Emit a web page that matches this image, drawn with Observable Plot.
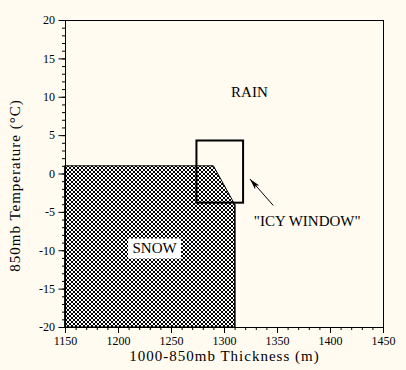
<!DOCTYPE html>
<html>
<head>
<meta charset="utf-8">
<script src="https://cdn.jsdelivr.net/npm/d3@7"></script>
<script src="https://cdn.jsdelivr.net/npm/@observablehq/plot@0.6"></script>
<style>
  html, body { margin: 0; padding: 0; background: #fffbf0; }
  svg { display: block; }
</style>
</head>
<body>
<div id="chart"></div>
<script>
// Data
const xDomain = [1150, 1450];
const yDomain = [-20, 20];
const xMajorTicks = [1150, 1200, 1250, 1300, 1350, 1400, 1450];
const yMajorTicks = [-20, -15, -10, -5, 0, 5, 10, 15, 20];
const xMinorTicks = d3.range(1150, 1451, 10);
const yMinorTicks = d3.range(-20, 21, 1);
// snow region upper boundary (thickness, temperature); filled down to -20
const snowX = [1150, 1290, 1310];
const snowY = [1, 1, -4];
// icy window box
const icyBox = [{x1: 1274, x2: 1318, y1: -3.8, y2: 4.3}];
// arrow from label to box
const arrowTail = {x: 1346, y: -4.1};
const arrowHead = {x: 1324, y: -0.65};
// labels
const labels = [
  {text: "RAIN", x: 1323.5, y: 10.6},
  {text: "\"ICY WINDOW\"", x: 1378, y: -6.1}
];
const snowLabel = [{text: "SNOW", x: 1234, y: -9.7}];

const snow = snowX.map((x, i) => ({x, y: snowY[i]}));

const arrowHeadSymbol = {
  draw(ctx) {
    ctx.moveTo(0, 0);
    ctx.lineTo(-2.8, 11);
    ctx.lineTo(0, 8.5);
    ctx.lineTo(2.8, 11);
    ctx.closePath();
  }
};
const boxSymbol = {
  draw(ctx) { ctx.rect(-26.5, -10, 53, 20); }
};

const font = "Liberation Serif, Times New Roman, serif";

const plot = Plot.plot({
  width: 406,
  height: 370,
  marginLeft: 65,
  marginRight: 23,
  marginTop: 20,
  marginBottom: 43,
  style: {background: "#fffbf0", fontFamily: font, fontSize: "12px", color: "black", overflow: "visible"},
  x: {domain: xDomain},
  y: {domain: yDomain},
  marks: [
    Plot.areaY(snow, {x: "x", y: "y", y1: -20, fill: "url(#hatch)", stroke: "black", strokeWidth: 1}),
    Plot.ruleX([snowX[snowX.length - 1]], {y1: snowY[snowY.length - 1], y2: -20, stroke: "black"}),
    Plot.rect(icyBox, {x1: "x1", x2: "x2", y1: "y1", y2: "y2", fill: "none", stroke: "black", strokeWidth: 2}),
    Plot.link([{}], {x1: arrowTail.x, y1: arrowTail.y, x2: arrowHead.x, y2: arrowHead.y, stroke: "black", strokeWidth: 1}),
    Plot.dot([arrowHead], {x: "x", y: "y", symbol: arrowHeadSymbol, fill: "black", stroke: "none", rotate: -41}),
    Plot.dot(snowLabel, {x: "x", y: "y", symbol: boxSymbol, fill: "white", stroke: "none"}),
    Plot.text(snowLabel, {x: "x", y: "y", text: "text", fontSize: 15, fontFamily: font, fill: "black"}),
    Plot.text(labels, {x: "x", y: "y", text: "text", fontSize: 15, fontFamily: font, fill: "black"}),
    Plot.frame({stroke: "black", strokeWidth: 1}),
    Plot.axisX(xMinorTicks, {tickSize: 3, text: null, stroke: "black"}),
    Plot.axisX(xMajorTicks, {tickSize: 6, tickPadding: 3, tickFormat: d => String(d), label: null, fill: "black", stroke: "black"}),
    Plot.axisY(yMinorTicks, {tickSize: 3, text: null, stroke: "black"}),
    Plot.axisY(yMajorTicks, {tickSize: 6.5, tickPadding: 4, tickFormat: d => String(d), label: null, fill: "black", stroke: "black"}),
    Plot.text(["1000-850mb Thickness (m)"], {frameAnchor: "bottom", dy: 33, fontSize: 15, fontFamily: font, fill: "black"}),
    Plot.text(["850mb Temperature (°C)"], {frameAnchor: "left", textAnchor: "middle", y: [-1.5], dx: -50, rotate: -90, fontSize: 15, fontFamily: font, fill: "black"})
  ]
});

// hatch pattern defs
const svg = d3.select(plot);
const defs = svg.insert("defs", ":first-child");
const pat = defs.append("pattern")
  .attr("id", "hatch").attr("patternUnits", "userSpaceOnUse")
  .attr("width", 4).attr("height", 4);
pat.append("rect").attr("width", 4).attr("height", 4).attr("fill", "white");
[[1,0,2,1],[0,1,1,2],[3,1,1,2],[1,3,2,1]].forEach(([x,y,w,h]) =>
  pat.append("rect").attr("x", x).attr("y", y).attr("width", w).attr("height", h).attr("fill", "black").attr("shape-rendering", "crispEdges"));
svg.selectAll("text").filter(function() { return /Thickness|Temperature/.test(this.textContent); }).attr("letter-spacing", "1px");

document.getElementById("chart").appendChild(plot);
</script>
</body>
</html>
